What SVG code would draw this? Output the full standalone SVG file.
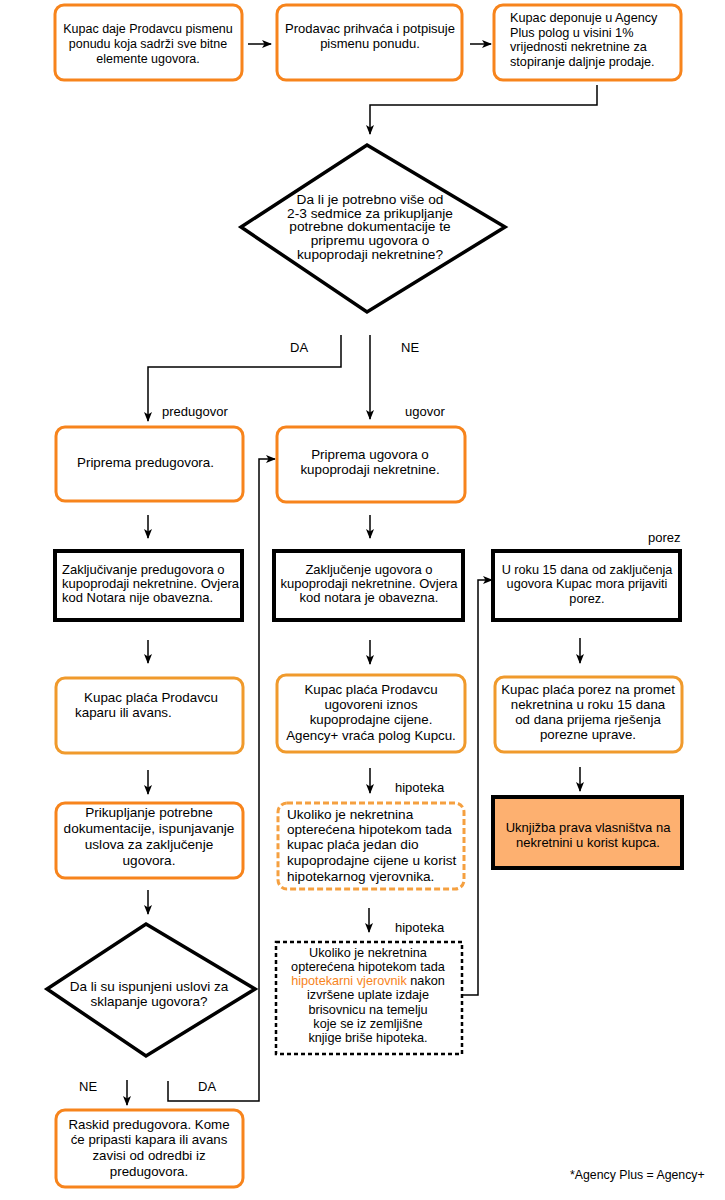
<svg xmlns="http://www.w3.org/2000/svg" width="725" height="1200" viewBox="0 0 725 1200">
<defs>
<marker id="ah" markerWidth="10" markerHeight="8" refX="9" refY="4" orient="auto" markerUnits="userSpaceOnUse"><path d="M0,0 L10,4 L0,8 L2.5,4 z" fill="#000"/></marker>
<style>
text{font-family:"Liberation Sans",Arial,sans-serif;font-size:13px;fill:#000}
.c{text-anchor:middle}
.o{fill:none;stroke:#f7841c;stroke-width:3}
.ol{fill:none;stroke:#f09a2c;stroke-width:3}
.k{fill:#fff;stroke:#000;stroke-width:4}
.cn{fill:none;stroke:#000;stroke-width:1.5;marker-end:url(#ah)}
.or{fill:#f7841c}
</style>
</defs>
<rect width="725" height="1200" fill="#fff"/>
<g id="connectors">
<path class="cn" d="M248,44 H271"/>
<path class="cn" d="M470,44 H491"/>
<path class="cn" d="M597,85 V105 H370 V134"/>
<path class="cn" d="M341,335 V367 H148 V421"/>
<path class="cn" d="M370,335 V419"/>
<path class="cn" d="M148,515 V538"/>
<path class="cn" d="M370,515 V538"/>
<path class="cn" d="M148,640 V663"/>
<path class="cn" d="M370,640 V664"/>
<path class="cn" d="M580,638 V663"/>
<path class="cn" d="M148,770 V794"/>
<path class="cn" d="M370,768 V793"/>
<path class="cn" d="M580,767 V791"/>
<path class="cn" d="M148,890 V914"/>
<path class="cn" d="M369,908 V932"/>
<path class="cn" d="M127,1080 V1105"/>
<path class="cn" d="M168,1081 V1101 H259 V459 H275"/>
<path class="cn" d="M463,995 H478 V580 H492"/>
</g>
<g id="labels">
<text x="290" y="352">DA</text>
<text x="401" y="352">NE</text>
<text x="162" y="416">predugovor</text>
<text x="405" y="416">ugovor</text>
<text x="648" y="542">porez</text>
<text x="395" y="792">hipoteka</text>
<text x="395" y="932">hipoteka</text>
<text x="79" y="1091">NE</text>
<text x="198" y="1091">DA</text>
</g>
<g id="n1" style="font-size:12.5px"><rect class="o" x="55" y="5" width="187" height="75" rx="9"/>
<text class="c" x="148" y="33" style="font-size:12.5px">Kupac daje Prodavcu pismenu</text><text class="c" x="148" y="48" style="font-size:12.5px">ponudu koja sadrži sve bitne</text><text class="c" x="148" y="63" style="font-size:12.5px">elemente ugovora.</text></g>
<g id="n2"><rect class="o" x="277" y="5" width="185" height="75" rx="9"/>
<text class="c" x="370" y="33">Prodavac prihvaća i potpisuje</text><text class="c" x="370" y="48">pismenu ponudu.</text></g>
<g id="n3"><rect class="o" x="494" y="5" width="187" height="75" rx="9"/>
<text x="510" y="22" style="font-size:12.7px">Kupac deponuje u Agency</text><text x="510" y="37" style="font-size:12.7px">Plus polog u visini 1%</text><text x="510" y="51" style="font-size:12.7px">vrijednosti nekretnine za</text><text x="510" y="66" style="font-size:12.7px">stopiranje daljnje prodaje.</text></g>
<g id="d1"><polygon points="367,145 505,227 367,312 241,227" fill="#fff" stroke="#000" stroke-width="3.5"/>
<text class="c" x="370" y="204" style="font-size:13.7px">Da li je potrebno više od</text><text class="c" x="370" y="218" style="font-size:13.7px">2-3 sedmice za prikupljanje</text><text class="c" x="370" y="231" style="font-size:13.7px">potrebne dokumentacije te</text><text class="c" x="370" y="245" style="font-size:13.7px">pripremu ugovora o</text><text class="c" x="370" y="259" style="font-size:13.7px">kupoprodaji nekretnine?</text></g>
<g id="n4"><rect class="o" x="56" y="427" width="187" height="74" rx="9"/>
<text x="77" y="467" style="font-size:13.4px">Priprema predugovora.</text></g>
<g id="n5"><rect class="o" x="277" y="427" width="188" height="75" rx="9"/>
<text class="c" x="370" y="459" style="font-size:13.4px">Priprema ugovora o</text><text class="c" x="370" y="474" style="font-size:13.4px">kupoprodaji nekretnine.</text></g>
<g id="n6"><rect class="k" x="55" y="551" width="187" height="69"/>
<text x="62" y="574">Zaključivanje predugovora o</text><text x="62" y="588">kupoprodaji nekretnine. Ovjera</text><text x="62" y="602">kod Notara nije obavezna.</text></g>
<g id="n7"><rect class="k" x="274" y="551" width="189" height="69"/>
<text class="c" x="369" y="574">Zaključenje ugovora o</text><text class="c" x="369" y="588">kupoprodaji nekretnine. Ovjera</text><text class="c" x="369" y="602">kod notara je obavezna.</text></g>
<g id="n8"><rect class="k" x="493" y="551" width="187" height="69"/>
<text class="c" x="587" y="574" style="font-size:12.7px">U roku 15 dana od zaključenja</text><text class="c" x="587" y="588" style="font-size:12.7px">ugovora Kupac mora prijaviti</text><text class="c" x="587" y="603" style="font-size:12.7px">porez.</text></g>
<g id="n9"><rect class="ol" x="56" y="678" width="187" height="75" rx="9"/>
<text x="84" y="702" style="font-size:13.4px">Kupac plaća Prodavcu</text><text x="75" y="717" style="font-size:13.4px">kaparu ili avans.</text></g>
<g id="n10"><rect class="ol" x="277" y="675" width="188" height="77" rx="9"/>
<text class="c" x="371" y="694" style="font-size:13.3px">Kupac plaća Prodavcu</text><text class="c" x="371" y="709" style="font-size:13.3px">ugovoreni iznos</text><text class="c" x="371" y="724" style="font-size:13.3px">kupoprodajne cijene.</text><text class="c" x="371" y="740" style="font-size:13.3px">Agency+ vraća polog Kupcu.</text></g>
<g id="n11"><rect class="ol" x="495" y="677" width="187" height="75" rx="9"/>
<text class="c" x="588" y="694" style="font-size:13.3px">Kupac plaća porez na promet</text><text class="c" x="588" y="709" style="font-size:13.3px">nekretnina u roku 15 dana</text><text class="c" x="588" y="724" style="font-size:13.3px">od dana prijema rješenja</text><text class="c" x="588" y="739" style="font-size:13.3px">porezne uprave.</text></g>
<g id="n12"><rect x="493" y="797" width="189" height="71" fill="#fdb070" stroke="#000" stroke-width="4"/>
<text class="c" x="588" y="832">Uknjižba prava vlasništva na</text><text class="c" x="588" y="847">nekretnini u korist kupca.</text></g>
<g id="n13"><rect class="o" x="56" y="803" width="187" height="75" rx="9"/>
<text class="c" x="149" y="817" style="font-size:13.6px">Prikupljanje potrebne</text><text class="c" x="149" y="833" style="font-size:13.6px">dokumentacije, ispunjavanje</text><text class="c" x="149" y="849" style="font-size:13.6px">uslova za zaključenje</text><text class="c" x="149" y="865" style="font-size:13.6px">ugovora.</text></g>
<g id="n14"><rect x="278" y="803" width="186" height="86" rx="9" fill="#fff" stroke="#f5a040" stroke-width="3" stroke-dasharray="6,3"/>
<text x="287" y="819" style="font-size:13.6px">Ukoliko je nekretnina</text><text x="287" y="834" style="font-size:13.6px">opterećena hipotekom tada</text><text x="287" y="849" style="font-size:13.6px">kupac plaća jedan dio</text><text x="287" y="865" style="font-size:13.6px">kupoprodajne cijene u korist</text><text x="287" y="881" style="font-size:13.6px">hipotekarnog vjerovnika.</text></g>
<g id="n15"><rect x="276" y="942" width="186" height="112" fill="#fff" stroke="#000" stroke-width="2.5" stroke-dasharray="4,3"/>
<text class="c" x="368" y="957" style="font-size:12.7px">Ukoliko je nekretnina</text><text class="c" x="368" y="971" style="font-size:12.7px">opterećena hipotekom tada</text><text class="c" x="368" y="985" style="font-size:12.7px"><tspan class="or">hipotekarni vjerovnik</tspan> nakon</text><text class="c" x="368" y="999" style="font-size:12.7px">izvršene uplate izdaje</text><text class="c" x="368" y="1014" style="font-size:12.7px">brisovnicu na temelju</text><text class="c" x="368" y="1028" style="font-size:12.7px">koje se iz zemljišne</text><text class="c" x="368" y="1042" style="font-size:12.7px">knjige briše hipoteka.</text></g>
<g id="d2"><polygon points="146,924 255,989 146,1056 47,989" fill="#fff" stroke="#000" stroke-width="3.5"/>
<text class="c" x="149" y="991" style="font-size:13.5px">Da li su ispunjeni uslovi za</text><text class="c" x="149" y="1006" style="font-size:13.5px">sklapanje ugovora?</text></g>
<g id="n16"><rect class="o" x="56" y="1110" width="187" height="77" rx="9"/>
<text class="c" x="149" y="1129" style="font-size:13.3px">Raskid predugovora. Kome</text><text class="c" x="149" y="1144" style="font-size:13.3px">će pripasti kapara ili avans</text><text class="c" x="149" y="1160" style="font-size:13.3px">zavisi od odredbi iz</text><text class="c" x="149" y="1176" style="font-size:13.3px">predugovora.</text></g>
<g id="note"><text x="570" y="1179" style="font-size:12.3px">*Agency Plus = Agency+</text></g>
</svg>
